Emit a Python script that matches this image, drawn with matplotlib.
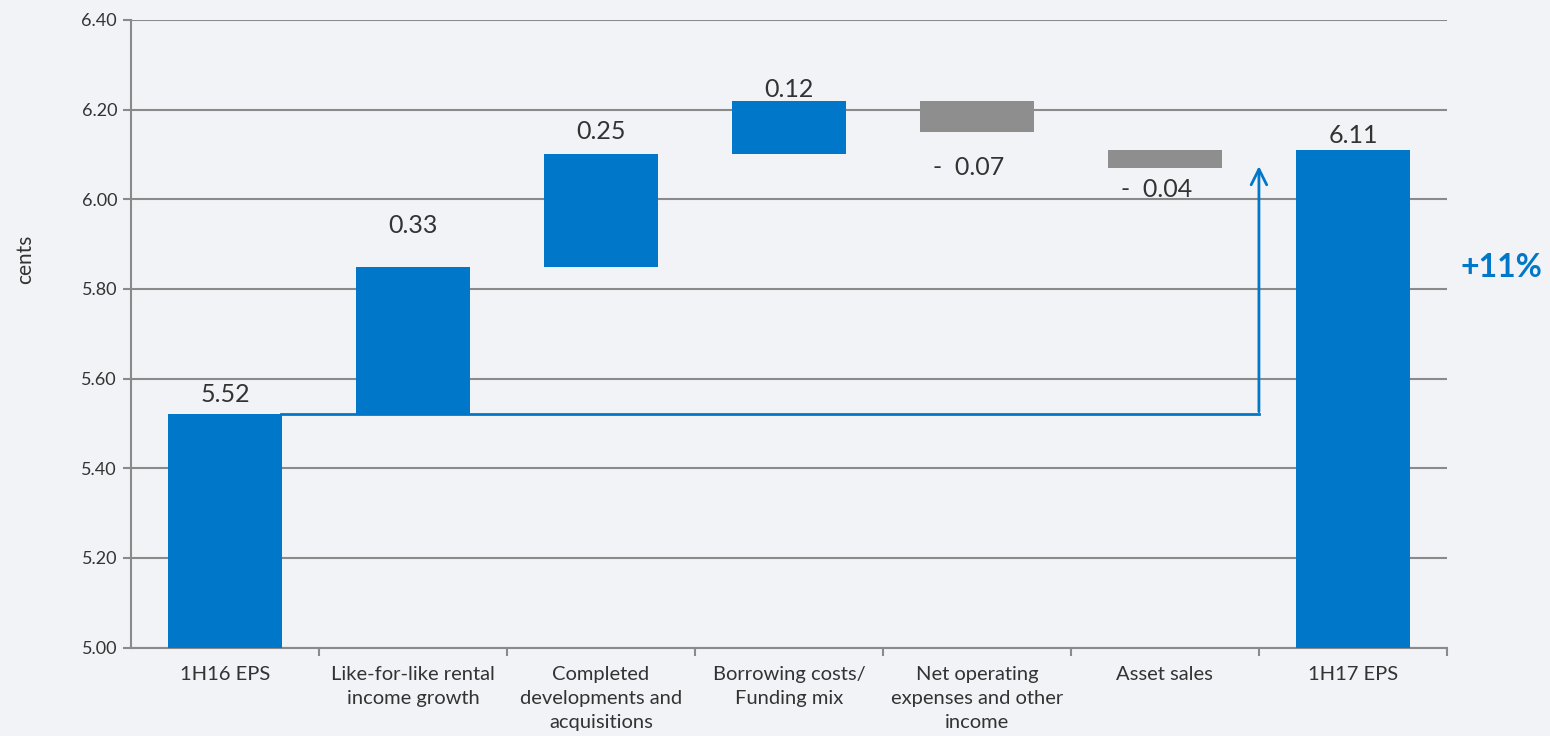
import matplotlib.pyplot as plt

categories = ["1H16 EPS", "Like-for-like rental\nincome growth", "Completed\ndevelopments and\nacquisitions",
              "Borrowing costs/\nFunding mix", "Net operating\nexpenses and other\nincome", "Asset sales", "1H17 EPS"]
values = [5.52, 0.33, 0.25, 0.12, -0.07, -0.04, 6.11]
# bar ranges as drawn in the source chart (low, high)
bar_low = [5.00, 5.52, 5.85, 6.10, 6.15, 6.07, 5.00]
bar_high = [5.52, 5.85, 6.10, 6.22, 6.22, 6.11, 6.11]
start_value = 5.52
growth_label = "+11%"
yticks = [5.00, 5.20, 5.40, 5.60, 5.80, 6.00, 6.20, 6.40]

BLUE = "#0077C8"
GREY = "#8E8E8E"
TEXT = "#333333"
BG = "#F1F3F6"

plt.rcParams['font.family'] = ['Lato', 'DejaVu Sans']

fig = plt.figure(figsize=(15.5, 7.36), dpi=100, facecolor=BG)
ax = fig.add_axes([0.0845, 0.12, 0.849, 0.853])
ax.set_facecolor(BG)

x = list(range(len(categories)))
heights = [h - l for l, h in zip(bar_low, bar_high)]
colors = [BLUE if v >= 0 else GREY for v in values]
ax.bar(x, heights, bottom=bar_low, width=0.61, color=colors, zorder=3)

ax.set_xlim(-0.5, len(categories) - 0.5)
ax.set_ylim(5.0, 6.4)
ax.set_yticks(yticks)
ax.set_yticklabels([f"{v:.2f}" for v in yticks], fontsize=13, color=TEXT)
ax.yaxis.grid(True, color="#8A8A8A", linewidth=1.5, zorder=1)
ax.set_axisbelow(True)

ax.set_xticks(x)
ax.set_xticklabels(categories, fontsize=14.5, color=TEXT, va="top", linespacing=1.5)
ax.set_xticks([i + 0.5 for i in x], minor=True)
ax.tick_params(axis="x", which="major", length=0, pad=13)
ax.tick_params(axis="x", which="minor", length=6, color="#8A8A8A", width=1.5)
ax.tick_params(axis="y", length=6, color="#8A8A8A", width=1.5, pad=4)

for s in ["top", "right"]:
    ax.spines[s].set_visible(False)
for s in ["left", "bottom"]:
    ax.spines[s].set_color("#8A8A8A")
    ax.spines[s].set_linewidth(1.5)

# value labels
label_pad = [6, 21, 8, 0, -17, -7, 2]
for i, v in enumerate(values):
    if v >= 0:
        ax.annotate(f"{v:.2f}", (i, bar_high[i]), xytext=(0, label_pad[i]), textcoords="offset points",
                    ha="center", va="bottom", fontsize=18, color=TEXT)
    else:
        ax.annotate(f"-  {abs(v):.2f}", (i, bar_low[i]), xytext=(-6, label_pad[i]), textcoords="offset points",
                    ha="center", va="top", fontsize=18, color=TEXT)

# growth arrow
arrow_x = len(categories) - 1.5
ax.plot([0.3, arrow_x], [start_value, start_value], color=BLUE, linewidth=2, zorder=4)
ax.annotate("", xy=(arrow_x, 6.08), xytext=(arrow_x, start_value),
            arrowprops=dict(arrowstyle="->", color=BLUE, lw=2, mutation_scale=28), zorder=4)
fig.text(0.995, 0.637, growth_label, ha="right", va="center", fontsize=23, fontweight="bold", color=BLUE)

fig.text(0.016, 0.647, "cents", rotation=90, ha="center", va="center", fontsize=15, color=TEXT)

fig.savefig("out.png", dpi=100, facecolor=BG)
